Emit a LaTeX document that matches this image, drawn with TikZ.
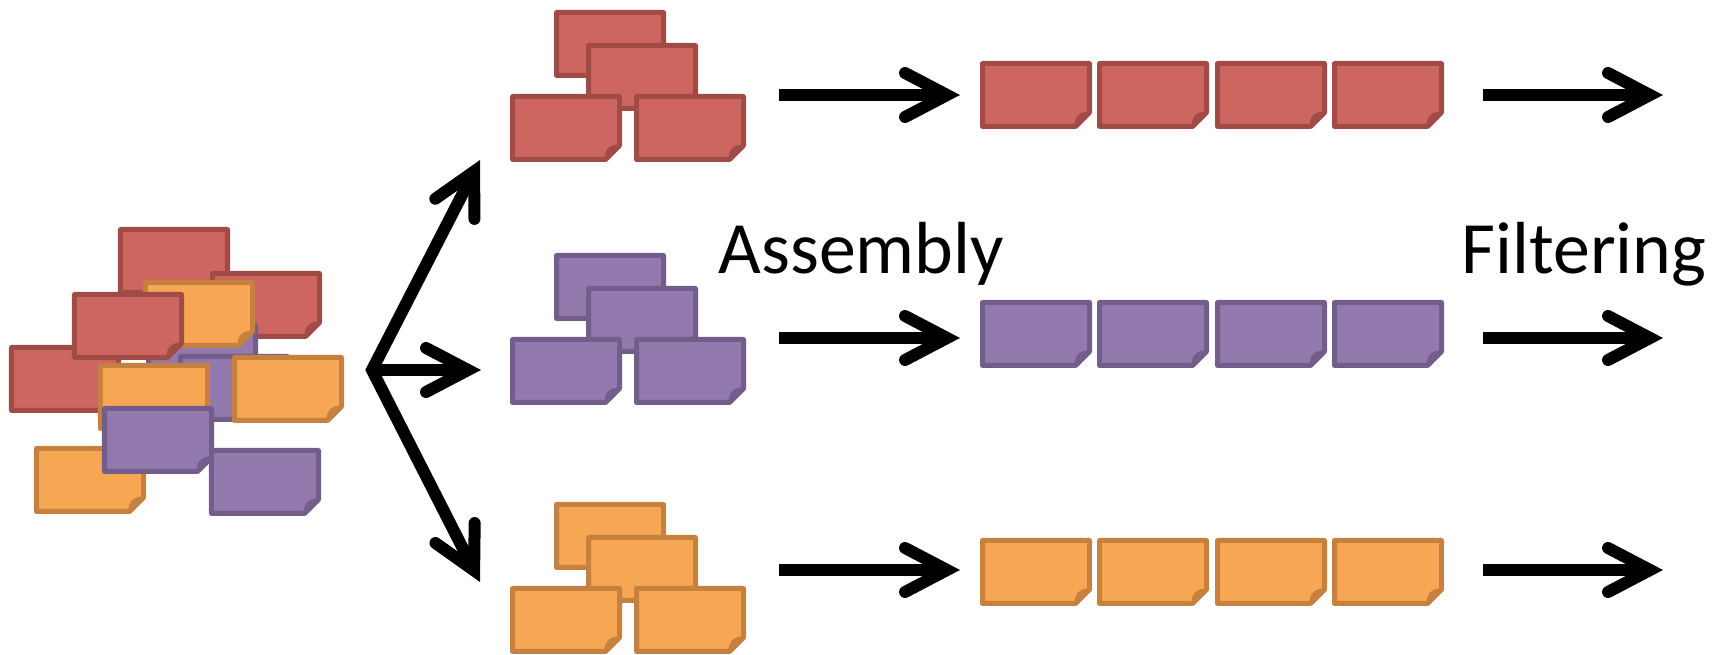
\documentclass[tikz,border=0pt]{standalone}
\usepackage{fontspec}
\setmainfont{Carlito}
\usetikzlibrary{arrows.meta}

\definecolor{redfill}{RGB}{205,102,96}
\definecolor{rededge}{RGB}{161,75,71}
\definecolor{purplefill}{RGB}{146,121,174}
\definecolor{purpleedge}{RGB}{115,94,139}
\definecolor{orangefill}{RGB}{247,167,84}
\definecolor{orangeedge}{RGB}{199,129,62}

\tikzset{
  flow/.style={line width=0.12cm},
  stage/.style={font=\fontsize{21pt}{25pt}\selectfont, anchor=base west, inner sep=0pt}
}

% sticky note with a curled corner: colour, lower left corner
\newcommand{\notecard}[3]{%
  \begin{scope}[shift={(#2,#3)}]
    \draw[line width=0.05cm, line join=round, draw=#1edge, fill=#1fill]
      (0.025,0.025) -- (0.025,0.655) -- (1.095,0.655) -- (1.095,0.165) -- (0.955,0.025) -- cycle;
    \filldraw[line width=0.02cm, line join=round, draw=#1edge, fill=#1edge]
      (0.955,0.025) .. controls (0.955,0.12) and (1.0,0.165) .. (1.095,0.165) -- cycle;
  \end{scope}}

\begin{document}
\begin{tikzpicture}[>={Straight Barb[length=0.42cm, width=0.44cm, line cap=round, line join=miter]}]
  \useasboundingbox (0,0) rectangle (17.19,6.55);

  % mixed pile of notes
  \notecard{red}{1.18}{3.60}
  \notecard{red}{2.10}{3.16}
  \notecard{purple}{1.46}{2.64}
  \notecard{purple}{1.78}{2.33}
  \notecard{orange}{1.43}{3.07}
  \notecard{red}{0.09}{2.42}
  \notecard{red}{0.72}{2.95}
  \notecard{orange}{2.32}{2.32}
  \notecard{orange}{0.98}{2.24}
  \notecard{orange}{0.34}{1.41}
  \notecard{purple}{2.09}{1.39}
  \notecard{purple}{1.02}{1.81}

  % sorting by colour
  \coordinate (split) at (3.72,2.85);
  \coordinate (toRed) at (4.80,4.95);
  \coordinate (toPurple) at (4.81,2.85);
  \coordinate (toOrange) at (4.80,0.73);
  \draw[flow,<->] (toRed) -- (split) -- (toOrange);
  \draw[flow,->] (split) -- (toPurple);

  % one lane per colour: stack, assembled row, filtered
  \foreach \c/\s/\r/\a in {red/4.93/5.26/5.60, purple/2.50/2.87/3.17, orange/0.01/0.49/0.85} {
    \notecard{\c}{5.54}{\s+0.84}
    \notecard{\c}{5.86}{\s+0.51}
    \notecard{\c}{5.10}{\s}
    \notecard{\c}{6.34}{\s}
    \foreach \x in {9.80,10.97,12.15,13.32}
      \notecard{\c}{\x}{\r};
    \coordinate (\c-in) at (7.79,\a);
    \coordinate (\c-row) at (9.60,\a);
    \coordinate (\c-end) at (14.83,\a);
    \coordinate (\c-out) at (16.63,\a);
    \draw[flow,->] (\c-in) -- (\c-row);
    \draw[flow,->] (\c-end) -- (\c-out);
  }

  \node[stage] (assembly) at (7.18,3.81) {Assembly};
  \node[stage] (filtering) at (14.61,3.81) {Filtering};
\end{tikzpicture}
\end{document}
